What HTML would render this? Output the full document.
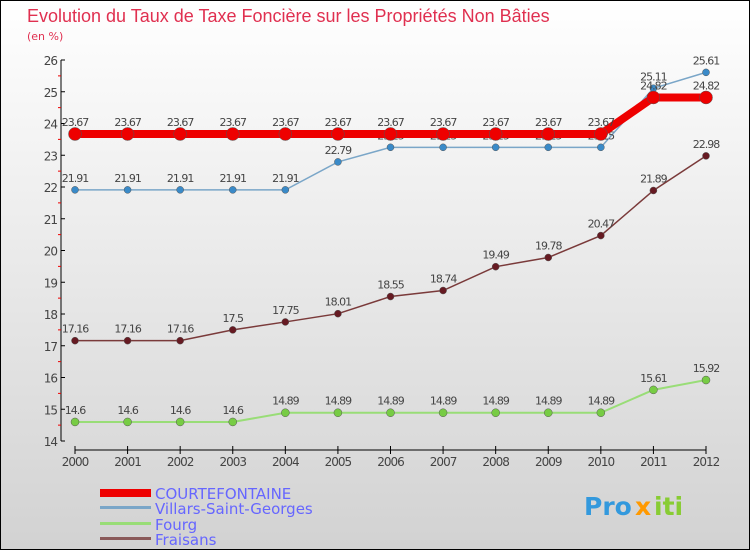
<!DOCTYPE html>
<html><head><meta charset="utf-8"><style>
html,body{margin:0;padding:0}
body{width:750px;height:550px;overflow:hidden}
svg{display:block;font-family:"DejaVu Sans","Liberation Sans",sans-serif}
</style></head><body>
<svg id="chart" width="750" height="550" xmlns="http://www.w3.org/2000/svg">
<defs><linearGradient id="bg" x1="0" y1="0" x2="0" y2="1"><stop offset="0" stop-color="#ffffff"/><stop offset="1" stop-color="#d2d2d2"/></linearGradient></defs>
<rect x="0.5" y="0.5" width="749" height="549" fill="url(#bg)" stroke="#000"/>
<text x="27" y="22" font-size="18" fill="#e03050" font-family="Liberation Sans, sans-serif">Evolution du Taux de Taxe Foncière sur les Propriétés Non Bâties</text>
<text x="27" y="40" font-size="11" fill="#e03050">(en %)</text>
<g id="axes"></g><g id="series"></g>
<g>
<rect x="100" y="489" width="51" height="8" fill="#e00"/>
<text x="155" y="499" font-size="15" fill="#6666ff">COURTEFONTAINE</text>
<rect x="100" y="506" width="51" height="3" fill="#7aa6c8"/>
<text x="155" y="514" font-size="15" fill="#6666ff">Villars-Saint-Georges</text>
<rect x="100" y="522" width="51" height="3" fill="#99dd77"/>
<text x="155" y="530" font-size="15" fill="#6666ff">Fourg</text>
<rect x="100" y="537" width="51" height="3" fill="#8a5a5a"/>
<text x="155" y="545" font-size="15" fill="#6666ff">Fraisans</text>
</g>
<g font-size="25" font-weight="bold">
<text x="584" y="515" fill="#3399dd">Pro</text><text x="635" y="515" fill="#ff9900">x</text><text x="654" y="515" fill="#88cc33">iti</text>
</g>
</svg>
<script>
const years=[2000,2001,2002,2003,2004,2005,2006,2007,2008,2009,2010,2011,2012];
const yTicks=[14,15,16,17,18,19,20,21,22,23,24,25,26];
const courte=[23.67,23.67,23.67,23.67,23.67,23.67,23.67,23.67,23.67,23.67,23.67,24.82,24.82];
const villars=[21.91,21.91,21.91,21.91,21.91,22.79,23.25,23.25,23.25,23.25,23.25,25.11,25.61];
const fourg=[14.6,14.6,14.6,14.6,14.89,14.89,14.89,14.89,14.89,14.89,14.89,15.61,15.92];
const fraisans=[17.16,17.16,17.16,17.5,17.75,18.01,18.55,18.74,19.49,19.78,20.47,21.89,22.98];
const NS="http://www.w3.org/2000/svg";
const X=i=>75+i*(706-75)/(years.length-1);
const Y=v=>441-(v-14)*(441-60)/12;
function el(t,a,p){const e=document.createElementNS(NS,t);for(const k in a)e.setAttribute(k,a[k]);p.appendChild(e);return e;}
const ax=document.getElementById('axes'),sr=document.getElementById('series');
const ya=el('line',{x1:61,y1:60,x2:61,y2:441,stroke:'#000'},ax);


yTicks.forEach(v=>{
 el('line',{x1:61,y1:Y(v),x2:65,y2:Y(v),stroke:'#000'},ax);
 if(v<26) el('line',{x1:58,y1:Y(v+0.5),x2:61,y2:Y(v+0.5),stroke:'#e00'},ax);
 const t=el('text',{x:57,y:Y(v)+5,'text-anchor':'end','font-size':12,fill:'#444','letter-spacing':'-1'},ax);
 
 
 t.textContent=v;
});
const xa=el('line',{x1:75,y1:450,x2:706,y2:450,stroke:'#000'},ax);


years.forEach((y,i)=>{
 el('line',{x1:X(i),y1:446,x2:X(i),y2:454,stroke:'#000'},ax);
 const t=el('text',{x:X(i),y:466,'text-anchor':'middle','font-size':12,fill:'#444','letter-spacing':'-1'},ax);
 
 
 t.textContent=y;
});
function series(vals,color,w,r,name,dot){
 const g=el('g',{},sr);
 
 
 el('polyline',{points:vals.map((v,i)=>X(i)+','+Y(v)).join(' '),fill:'none',stroke:color,'stroke-width':w},g);
 vals.forEach((v,i)=>{
  const c=el('circle',{cx:X(i),cy:Y(v),r:r,fill:dot,stroke:'#555','stroke-width':0.5},g);
  
  
  const t=el('text',{x:X(i),y:Y(v)-8,'text-anchor':'middle','font-size':11,fill:'#444','letter-spacing':'-1'},g);
  
  
  t.textContent=v;
 });
}
series(fourg,'#99dd77',2,4,'series-fourg','#77cc44');
series(fraisans,'#7a3a3a',1.5,3.5,'series-fraisans','#661a22');
series(villars,'#7aa6c8',1.5,3.5,'series-villars','#3a8ac8');
series(courte,'#ee0000',8,6.5,'series-courtefontaine','#ee0000');
</script>
</body></html>
